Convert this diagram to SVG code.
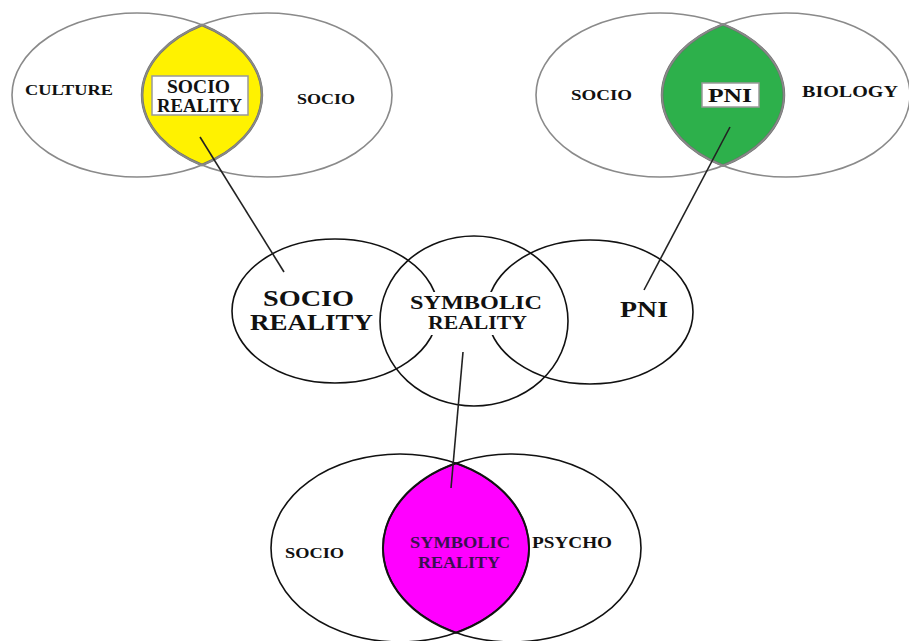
<svg xmlns="http://www.w3.org/2000/svg" width="909" height="641" viewBox="0 0 909 641">
<style>
.e{fill:none;stroke:#8a8a8a;stroke-width:1.6}
.m{fill:none;stroke:#111;stroke-width:1.6}
.lens{stroke:#6e6e6e;stroke-width:2.6}
.t{font-family:"Liberation Serif","Times New Roman",serif;font-weight:bold;fill:#111}
.box{fill:#fff;stroke:#999;stroke-width:1.5}
.c{fill:none;stroke:#222;stroke-width:1.6}
</style>
<rect width="909" height="641" fill="#fff"/>
<g id="venn-top-left">
<path class="lens" fill="#fff200" d="M202 25 A125 82 0 0 0 202 165 A125 82 0 0 0 202 25Z"/>
<ellipse class="e" cx="137" cy="95" rx="125" ry="82"/>
<ellipse class="e" cx="267" cy="95" rx="125" ry="82"/>
<rect class="box" x="152" y="76" width="96" height="39"/>
<text class="t" x="25" y="95" font-size="15" textLength="88" lengthAdjust="spacingAndGlyphs">CULTURE</text>
<text class="t" x="297" y="104" font-size="15" textLength="58" lengthAdjust="spacingAndGlyphs">SOCIO</text>
<text class="t" x="167" y="93" font-size="18" textLength="63" lengthAdjust="spacingAndGlyphs">SOCIO</text>
<text class="t" x="157" y="112" font-size="18" textLength="85" lengthAdjust="spacingAndGlyphs">REALITY</text>
</g>
<g id="venn-top-right">
<path class="lens" fill="#2db04b" d="M723 24.4 A124 82 0 0 0 723 165.6 A124 82 0 0 0 723 24.4Z"/>
<ellipse class="e" cx="660" cy="95" rx="124" ry="82"/>
<ellipse class="e" cx="786" cy="95" rx="124" ry="82"/>
<rect class="box" x="702" y="83" width="57" height="24"/>
<text class="t" x="571" y="100" font-size="15" textLength="61" lengthAdjust="spacingAndGlyphs">SOCIO</text>
<text class="t" x="802" y="97" font-size="17" textLength="96" lengthAdjust="spacingAndGlyphs">BIOLOGY</text>
<text class="t" x="708" y="102" font-size="19" textLength="44" lengthAdjust="spacingAndGlyphs">PNI</text>
</g>
<g id="venn-middle">
<ellipse class="m" cx="335" cy="311" rx="103" ry="72"/>
<ellipse class="m" cx="474" cy="321" rx="94" ry="85"/>
<ellipse class="m" cx="590" cy="312" rx="103" ry="72"/>
<rect x="430" y="292" width="66" height="43" fill="#fff"/>
<text class="t" x="263" y="306" font-size="24" textLength="91" lengthAdjust="spacingAndGlyphs">SOCIO</text>
<text class="t" x="250" y="330" font-size="24" textLength="123" lengthAdjust="spacingAndGlyphs">REALITY</text>
<text class="t" x="410" y="309" font-size="19" textLength="132" lengthAdjust="spacingAndGlyphs">SYMBOLIC</text>
<text class="t" x="428" y="329" font-size="19" textLength="99" lengthAdjust="spacingAndGlyphs">REALITY</text>
<text class="t" x="620" y="317" font-size="23" textLength="48" lengthAdjust="spacingAndGlyphs">PNI</text>
</g>
<g id="venn-bottom">
<path fill="#ff00ff" stroke="#222" stroke-width="2" d="M456 463.3 A129 94 0 0 0 456 632.7 A129 94 0 0 0 456 463.3Z"/>
<ellipse class="m" cx="400" cy="548" rx="129" ry="94"/>
<ellipse class="m" cx="512" cy="548" rx="129" ry="94"/>
<text class="t" x="285" y="558" font-size="15" textLength="59" lengthAdjust="spacingAndGlyphs">SOCIO</text>
<text class="t" x="532" y="548" font-size="16" textLength="80" lengthAdjust="spacingAndGlyphs">PSYCHO</text>
<text class="t" x="410" y="548" font-size="16" textLength="100" lengthAdjust="spacingAndGlyphs" style="fill:#3a1050">SYMBOLIC</text>
<text class="t" x="418" y="568" font-size="16" textLength="82" lengthAdjust="spacingAndGlyphs" style="fill:#3a1050">REALITY</text>
</g>
<g id="connectors">
<line class="c" x1="200" y1="137" x2="284" y2="272"/>
<line class="c" x1="730" y1="127" x2="644" y2="290"/>
<line class="c" x1="463" y1="352" x2="451" y2="488"/>
</g>
</svg>
